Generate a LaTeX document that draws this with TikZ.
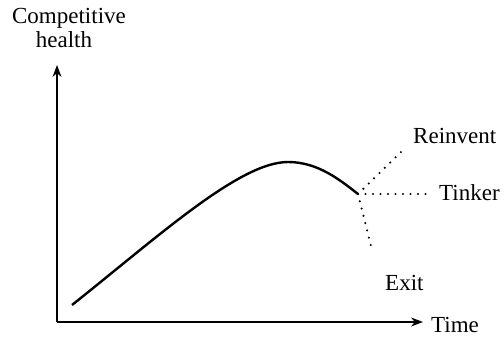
\documentclass[tikz,border=0pt]{standalone}
\usepackage{fontspec}
\setmainfont{Liberation Serif}
\usetikzlibrary{arrows.meta}
\begin{document}
\begin{tikzpicture}[x=1pt,y=-1pt,
  axis/.style={line width=1.3pt,-{Stealth[length=12pt,width=9pt]}},
  curveline/.style={line width=2.4pt},
  branch/.style={line width=2.3pt,line cap=round,dash pattern=on 0pt off 7.5pt},
  lbl/.style={font=\fontsize{23}{25}\selectfont,inner sep=0pt,anchor=base west}]
\useasboundingbox (0,0) rectangle (504,338);
\coordinate (O) at (57,322);
\coordinate (ytip) at (57,65);
\coordinate (xtip) at (423,322);
\draw[axis] (O) -- (ytip);
\draw[axis] (O) -- (xtip);
\node[lbl,anchor=base] (yl1) at (69,23) {Competitive};
\node[lbl,anchor=base] (yl2) at (64,47) {health};
\node[lbl] (xl) at (431,332) {Time};
\coordinate (start) at (72,305);
\coordinate (peak) at (288,162);
\coordinate (B) at (358,194);
\draw[curveline] (start) .. controls (160,235) and (240,162) .. (peak) .. controls (318,162) and (340,180) .. (B);
\coordinate (Re) at (402,151);
\coordinate (Te) at (430,194);
\coordinate (Ee) at (372,250);
\draw[branch] (B) -- (Re);
\draw[branch] (B) -- (Te);
\draw[branch] (B) -- (Ee);
\node[lbl] (rl) at (413,143) {Reinvent};
\node[lbl] (tl) at (439,200) {Tinker};
\node[lbl] (el) at (385,290) {Exit};
\end{tikzpicture}
\end{document}
